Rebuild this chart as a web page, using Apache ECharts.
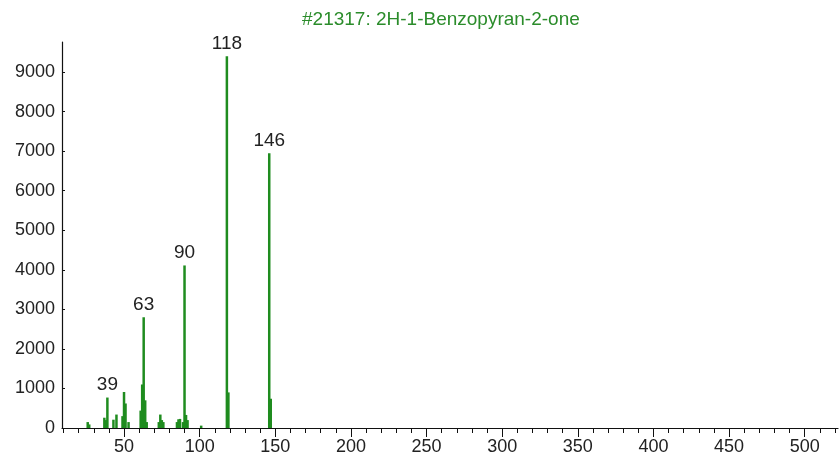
<!DOCTYPE html>
<html>
<head>
<meta charset="utf-8">
<script src="https://cdn.jsdelivr.net/npm/echarts@6/dist/echarts.min.js"></script>
<style>
html, body { margin: 0; padding: 0; background: #fff; }
#chart { width: 840px; height: 462px; }
</style>
</head>
<body>
<div id="chart"></div>
<script>
// m/z and abundance
var masses = [26, 27, 37, 38, 39, 43, 45, 49, 50, 51, 53, 61, 62, 63, 64, 65, 73, 74, 75, 76, 85, 86, 87, 89, 90, 91, 92, 101, 118, 119, 146, 147]
var abundance = [150, 90, 260, 200, 770, 210, 340, 300, 910, 620, 150, 440, 1100, 2800, 700, 150, 150, 340, 200, 150, 150, 220, 230, 150, 4110, 330, 200, 60, 9400, 900, 6950, 740]
var labelledPeaks = [39, 63, 90, 118, 146]

var xMajorTicks = [50, 100, 150, 200, 250, 300, 350, 400, 450, 500]
var xMinorTicks = []
for (var t = 10; t <= 520; t += 10) xMinorTicks.push(t)
var yTicks = [0, 1000, 2000, 3000, 4000, 5000, 6000, 7000, 8000, 9000]

var font = 'Liberation Sans, Arial, sans-serif'

var chart = echarts.init(document.getElementById('chart'))

var barData = masses.map(function (m, i) {
	var item = { value: [m, abundance[i]] }
	if (labelledPeaks.indexOf(m) >= 0) {
		item.label = {
			show: true,
			position: 'top',
			distance: 3,
			formatter: String(m),
			color: '#222',
			fontSize: 19,
			fontFamily: font
		}
	}
	return item
})

chart.setOption({
	animation: false,
	title: {
		text: '#21317: 2H-1-Benzopyran-2-one',
		left: 297,
		top: 5,
		textStyle: {
			color: '#2b8c2b',
			fontSize: 19,
			fontWeight: 'normal',
			fontFamily: font
		}
	},
	grid: {
		left: 62,
		right: 2,
		top: 42,
		bottom: 34
	},
	xAxis: [
		{
			type: 'value',
			min: 9,
			max: 522,
			axisLine: { lineStyle: { color: '#111', width: 1.2 } },
			axisTick: { customValues: xMajorTicks, length: 9, lineStyle: { color: '#111' } },
			axisLabel: { customValues: xMajorTicks, color: '#222', fontSize: 18, fontFamily: font, margin: 10 },
			splitLine: { show: false }
		},
		{
			type: 'value',
			min: 9,
			max: 522,
			position: 'bottom',
			axisLine: { show: false },
			axisTick: { customValues: xMinorTicks, length: 5, lineStyle: { color: '#111' } },
			axisLabel: { show: false },
			splitLine: { show: false }
		}
	],
	yAxis: {
		type: 'value',
		min: 0,
		max: 9760,
		axisLine: { show: true, lineStyle: { color: '#111', width: 1.2 } },
		axisTick: { show: true, inside: true, customValues: yTicks, length: 3, lineStyle: { color: '#111' } },
		axisLabel: {
			customValues: yTicks,
			formatter: function (v) { return String(v) },
			color: '#222',
			fontSize: 18,
			fontFamily: font,
			margin: 7
		},
		splitLine: { show: false }
	},
	series: [
		{
			type: 'bar',
			xAxisIndex: 0,
			barWidth: 2.5,
			itemStyle: { color: '#1f8c1f' },
			data: barData
		}
	]
})
</script>
</body>
</html>
